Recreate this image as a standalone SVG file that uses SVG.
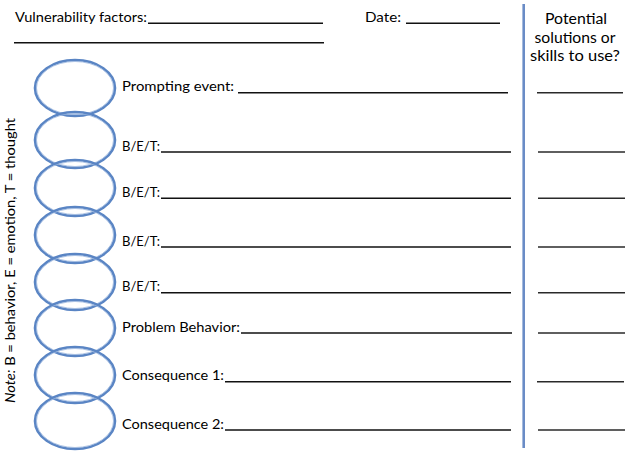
<svg xmlns="http://www.w3.org/2000/svg" width="625" height="459" viewBox="0 0 625 459">
<style>
text{font-family:Lato,"Liberation Sans",sans-serif;font-size:14px;fill:#000}
.hd{font-size:14.5px}
.ln{stroke:#111;stroke-width:1.4}
.rl{stroke:#2a2a2a;stroke-width:1.5}
.ring{fill:none;stroke:#5a85c4;stroke-width:2.6}
.ring2{fill:none;stroke:#9ab6de;stroke-width:0.8}
</style>
<rect width="625" height="459" fill="#fff"/>
<g id="header">
<text x="15" y="21.5" textLength="132" lengthAdjust="spacingAndGlyphs">Vulnerability factors:</text>
<line class="ln" x1="148" y1="23.3" x2="323" y2="23.3"/>
<line class="ln" x1="14" y1="42.7" x2="324" y2="42.7"/>
<text x="365" y="21.5" textLength="36" lengthAdjust="spacingAndGlyphs">Date:</text>
<line class="ln" x1="406" y1="23.3" x2="500" y2="23.3"/>
</g>
<g id="solutions-header" text-anchor="middle">
<text class="hd" x="576" y="24" textLength="62" lengthAdjust="spacingAndGlyphs">Potential</text>
<text class="hd" x="575" y="42.5" textLength="81" lengthAdjust="spacingAndGlyphs">solutions or</text>
<text class="hd" x="575" y="61" textLength="90" lengthAdjust="spacingAndGlyphs">skills to use?</text>
</g>
<line id="divider" x1="523.7" y1="4" x2="523.7" y2="448" stroke="#6a8cc6" stroke-width="2.6"/>
<g id="note">
<text transform="translate(15,403) rotate(-90)" textLength="285" lengthAdjust="spacingAndGlyphs"><tspan font-style="italic">Note:</tspan> B = behavior, E = emotion, T = thought</text>
</g>
<g id="rings">
<g id="ring1"><ellipse class="ring" cx="75" cy="88" rx="40" ry="28"/><ellipse class="ring2" cx="75" cy="88" rx="38.5" ry="26.5"/></g>
<g id="ring2"><ellipse class="ring" cx="75" cy="140" rx="40" ry="28"/><ellipse class="ring2" cx="75" cy="140" rx="38.5" ry="26.5"/></g>
<g id="ring3"><ellipse class="ring" cx="75" cy="188" rx="40" ry="28"/><ellipse class="ring2" cx="75" cy="188" rx="38.5" ry="26.5"/></g>
<g id="ring4"><ellipse class="ring" cx="75" cy="235" rx="40" ry="28"/><ellipse class="ring2" cx="75" cy="235" rx="38.5" ry="26.5"/></g>
<g id="ring5"><ellipse class="ring" cx="75" cy="282" rx="40" ry="28"/><ellipse class="ring2" cx="75" cy="282" rx="38.5" ry="26.5"/></g>
<g id="ring6"><ellipse class="ring" cx="75" cy="328" rx="40" ry="28"/><ellipse class="ring2" cx="75" cy="328" rx="38.5" ry="26.5"/></g>
<g id="ring7"><ellipse class="ring" cx="75" cy="375" rx="40" ry="28"/><ellipse class="ring2" cx="75" cy="375" rx="38.5" ry="26.5"/></g>
<g id="ring8"><ellipse class="ring" cx="75" cy="421" rx="40" ry="28"/><ellipse class="ring2" cx="75" cy="421" rx="38.5" ry="26.5"/></g>
</g>
<g id="row1"><text x="122" y="91" textLength="112" lengthAdjust="spacingAndGlyphs">Prompting event:</text><line class="ln" x1="238" y1="92.7" x2="508" y2="92.7"/><line class="rl" x1="537" y1="92.7" x2="623" y2="92.7"/></g>
<g id="row2"><text x="122" y="150.5" textLength="38" lengthAdjust="spacingAndGlyphs">B/E/T:</text><line class="ln" x1="161" y1="152" x2="511" y2="152"/><line class="rl" x1="538" y1="152" x2="625" y2="152"/></g>
<g id="row3"><text x="122" y="196.5" textLength="38" lengthAdjust="spacingAndGlyphs">B/E/T:</text><line class="ln" x1="161" y1="198.3" x2="511" y2="198.3"/><line class="rl" x1="538" y1="198.3" x2="625" y2="198.3"/></g>
<g id="row4"><text x="122" y="245.5" textLength="38" lengthAdjust="spacingAndGlyphs">B/E/T:</text><line class="ln" x1="161" y1="247" x2="511" y2="247"/><line class="rl" x1="538" y1="247" x2="625" y2="247"/></g>
<g id="row5"><text x="122" y="291" textLength="38" lengthAdjust="spacingAndGlyphs">B/E/T:</text><line class="ln" x1="161" y1="292.7" x2="511" y2="292.7"/><line class="rl" x1="538" y1="292.7" x2="625" y2="292.7"/></g>
<g id="row6"><text x="122" y="331.5" textLength="118" lengthAdjust="spacingAndGlyphs">Problem Behavior:</text><line class="ln" x1="241" y1="333" x2="512" y2="333"/><line class="rl" x1="538" y1="333" x2="625" y2="333"/></g>
<g id="row7"><text x="122" y="380" textLength="102" lengthAdjust="spacingAndGlyphs">Consequence 1:</text><line class="ln" x1="225" y1="381.7" x2="511" y2="381.7"/><line class="rl" x1="537" y1="381.7" x2="624" y2="381.7"/></g>
<g id="row8"><text x="122" y="428.5" textLength="102" lengthAdjust="spacingAndGlyphs">Consequence 2:</text><line class="ln" x1="225" y1="430" x2="511" y2="430"/><line class="rl" x1="538" y1="430" x2="625" y2="430"/></g>
</svg>
